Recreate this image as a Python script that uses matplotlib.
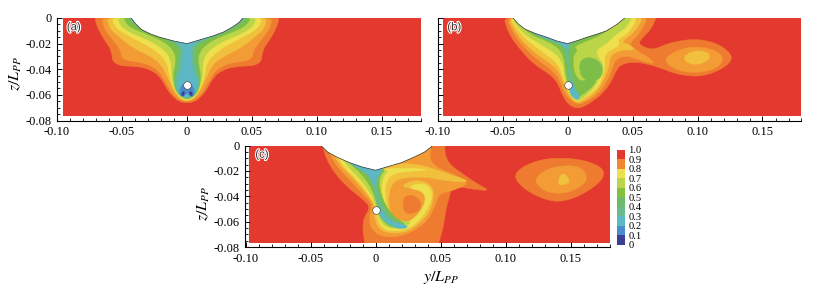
import numpy as np
import matplotlib
matplotlib.use("Agg")
import matplotlib.pyplot as plt
import matplotlib.patheffects as pe
from matplotlib.patches import Polygon, Rectangle

plt.rcParams['font.family'] = ['Liberation Serif', 'DejaVu Serif']
plt.rcParams['mathtext.fontset'] = 'stix'

# wake contours, x and z in 1/1000 Lpp. panel (a) is nearly symmetric: right half only
a_red = [(71,3),(70,-5),(65,-15),(58,-25),(57,-37),(35,-38),(25,-42),(20,-47),(14,-58),(7,-65),(0,-66.5)]
a_orange = [(66,3),(64,-8),(58,-16),(51,-25),(50,-33),(33,-35),(23,-40),(18,-47),(12,-58),(6,-64),(0,-65.5)]
a_gold = [(62,3),(60,-8),(52,-15),(42,-23),(28,-30),(20,-36),(15,-46),(10,-57),(5,-63),(0,-65)]
a_yellow = [(58,3),(56,-7),(45,-14),(33,-20),(22,-27),(15,-35),(13.5,-46),(9.5,-57),(5,-62.5),(0,-64.5)]
a_lime = [(54,3),(51,-7),(40,-13),(28,-18),(17,-25),(12,-33),(12,-46),(9,-57),(4.5,-62),(0,-64)]
a_green = [(50,3),(46,-6),(35,-11),(20,-17),(11,-24),(8,-32),(11,-46),(8.5,-57),(4,-61.5),(0,-63.5)]
a_sea = [(47,3),(42,-4),(28,-12),(12,-18),(6,-23),(6,-30),(8,-42),(10,-50),(8,-58),(4,-61),(0,-63)]
a_teal = [(45,3),(38,-4),(25,-11),(8,-18),(3,-23),(3,-28),(4,-40),(8,-48),(7,-58),(3,-60.5),(0,-62.5)]
a_blue = [(5,-53),(6,-60),(3,-62),(0,-58),(-3,-62),(-6,-60),(-5,-53),(0,-50)]
a_navy1 = [(2,-57),(4,-58),(4,-61),(2,-60)]
a_navy2 = [(-2,-57),(-4,-58),(-4,-61),(-2,-60)]

b_red = [(-50,5),(70,5),(65,-8),(58,-15),(55,-19),(57,-22),(66,-25),(79,-19),(99,-16),(116,-20),(126,-28),(126,-34),
         (117,-41),(102,-46),(84,-44),(69,-38),(53,-34),(41,-36),(37,-42),(33,-51),(26,-60),(15,-68),(7,-71),(0,-67),
         (-4,-60),(-7,-52),(-12,-45),(-26,-36),(-37,-24),(-46,-11)]
b_orange = [(-49,5),(-41,-14),(-28,-29),(-10,-42),(-5,-51),(-2,-60),(7,-68),(15,-65),(24,-59),(30,-50),(34,-41),(37,-32),
            (46,-29),(64,-36),(67,-34),(53,-25),(47,-20),(56,-12),(64,5)]
b_orange_lobe = [(73,-33),(84,-25),(99,-22),(114,-25),(121,-32),(114,-40),(99,-43),(84,-41)]
b_gold_lobe = [(90,-29),(99,-25),(109,-27),(109,-33),(99,-37),(90,-34)]
b_gold = [(-47,5),(-40,-12),(-27,-26),(-8,-39),(-4,-48),(0,-59),(7,-67),(14,-64),(23,-57),(28,-48),(32,-38),(33,-29),
          (41,-25),(53,-25),(46,-20),(41,-19),(53,-10),(60,5)]
b_yellow = [(-47,5),(-37,-12),(-23,-24),(-7,-35),(-3,-48),(1,-59),(7,-66),(12,-63),(22,-56),(27,-47),(29,-37),(28,-28),
            (41,-21),(38,-17),(48,-11),(56,5)]
b_lime = [(-46,5),(-35,-12),(-16,-23),(-4,-32),(-2,-48),(2,-59),(7,-65),(11,-63),(20,-55),(25,-46),(28,-37),(23,-30),
          (22,-25),(30,-20),(38,-12),(46,-7),(51,5)]
b_green = [(-44,5),(-31,-12),(-13,-19),(-3,-27),(-1,-47),(3,-59),(7,-63),(18,-55),(23,-48),(17,-47),(10,-50),(5,-43),
           (4,-30),(8,-25),(4,-22),(30,-12),(45,5)]
b_green_core = [(9,-33),(18,-30),(27,-36),(27,-46),(18,-50),(10,-46)]
b_sea = [(-42,5),(-28,-12),(-10,-18),(-2,-23),(0,-38),(1,-48),(4,-59),(7,-62),(10,-61),(7,-57),(5,-50),(1,-38),(1,-21),(10,-17),(0,-19)]
b_teal1 = [(-40,0),(-26,-13),(-5,-20),(-1,-25),(1,-21),(0,-20)]
b_teal2 = [(1,-52),(2,-60),(7,-64),(10,-62),(6,-57),(4,-51)]

c_red = [(-42,5),(-38,-11),(-29,-25),(-19,-35),(-9,-43),(-4,-49),(-9,-57),(-10,-66),(-7,-85),(46,-85),(52,-66),(54,-51),
         (57,-40),(59,-31),(71,-34),(89,-36),(78,-30),(68,-23),(57,-15),(53,-6),(54,5)]
c_red_lobe = [(106,-25),(112,-17),(130,-10),(153,-10),(171,-15),(177,-22),(171,-31),(153,-42),(136,-45),(116,-36)]
c_orange_lobe = [(123,-26),(129,-20),(141,-16),(157,-16),(164,-25),(158,-33),(145,-38),(132,-37),(124,-31)]
c_gold_lobe = [(140,-31),(142,-23),(146,-22),(150,-29),(145,-31)]
c_orange = [(-40,5),(-32,-14),(-20,-27),(-9,-39),(-2,-47),(-5,-55),(-4,-65),(4,-72),(19,-72),(32,-66),(41,-58),(46,-47),
            (49,-38),(58,-36),(73,-30),(61,-23),(40,-14),(45,5)]
c_core = [(22,-40),(30,-39),(36,-46),(32,-53),(23,-54),(21,-47)]
c_gold = [(-38,5),(-29,-14),(-16,-27),(-6,-39),(-1,-47),(-1,-56),(2,-65),(9,-69),(22,-69),(32,-63),(40,-55),(44,-45),
          (45,-35),(40,-29),(30,-27),(19,-32),(27,-34),(36,-35),(40,-41),(35,-52),(25,-61),(17,-61),(10.5,-51),(10,-38),
          (14,-28),(25,-25),(40,-25),(55,-28),(75,-29),(55,-22),(35,-15),(17,-14),(5,-19),(0,-18)]
c_yellow = [(-36,5),(-27,-14),(-14,-27),(-5,-39),(0,-47),(1,-56),(4,-64),(12,-68),(25,-66),(33,-60),(40,-50),(44,-41),
            (42,-33),(37,-30),(28,-31),(27,-34),(36,-36),(39,-42),(35,-52),(27,-60),(18,-61),(12,-58),(8,-45),(7,-32),
            (12,-22),(30,-20),(43,-19),(25,-18),(12,-18),(4,-19),(0,-18)]
c_lime = [(-33,5),(-24,-14),(-11,-27),(-3,-39),(0,-46),(2,-56),(6,-63),(14,-66),(24,-63),(28,-60),(15,-59),(8,-50),(4,-35),(6,-24),(10,-20),(4,-18)]
c_green = [(-31,5),(-22,-12),(-9,-24),(-2,-36),(1,-46),(3,-55),(8,-62),(15,-65),(24,-62),(16,-58),(8,-48),(3,-35),(3,-24),(8,-19),(0,-17)]
c_sea = [(-28,0),(-18,-12),(-6,-22),(-1,-34),(1,-45),(4,-55),(10,-62),(18,-66),(24,-63),(15,-60),(8,-52),(3,-42),(1,-30),(2,-22),(8,-17)]
c_teal1 = [(-36,-3),(-20,-14),(-5,-23),(0,-33),(1,-26),(6,-18),(0,-18)]
c_teal2 = [(2,-52),(5,-58),(12,-63),(20,-66),(26,-64),(18,-61),(11,-60),(6,-54),(3,-49)]

hull_a = [(-45,3),(-43,0),(-40,-4),(-35,-9),(-28,-12.5),(-21,-15),(-10,-18),(0,-20),(10,-17),(20,-14),(28,-11),(35,-7),(40,-3.5),(43,0),(45,3)]
hull_b = [(-44,3),(-42,0),(-38,-4.5),(-33,-8.5),(-25,-12),(-16,-15),(-8,-18),(0,-20),(8,-17.5),(15,-15),(23,-12.5),(30,-10),(38,-5),(44,0),(46,3)]
hull_c = [(-44,3),(-42,0),(-37,-5),(-30,-9),(-20,-13.5),(-10,-17),(0,-19.5),(10,-16.5),(20,-13.5),(30,-9),(38,-5),(43,-1),(45,3)]

probe_a = (0, -52)
probe_b = (0, -52)
probe_c = (0, -50.5)

xticks = [-0.10, -0.05, 0, 0.05, 0.10, 0.15]
xtick_labels = ['-0.10', '-0.05', '0', '0.05', '0.10', '0.15']
zticks = [0, -0.02, -0.04, -0.06, -0.08]
ztick_labels = ['0', '-0.02', '-0.04', '-0.06', '-0.08']
bar_levels = [0, 0.1, 0.2, 0.3, 0.4, 0.5, 0.6, 0.7, 0.8, 0.9, 1.0]
bar_labels = ['0', '0.1', '0.2', '0.3', '0.4', '0.5', '0.6', '0.7', '0.8', '0.9', '1.0']

RED = '#E3392E'
ORANGE = '#EE7B2F'
LORANGE = '#F39B34'
GOLD = '#F1C03C'
YELLOW = '#EDE04C'
LIME = '#BBD548'
GREEN = '#7DBE48'
SEA = '#68BC8C'
TEAL = '#5BB8C4'
BLUE = '#4A8CCB'
NAVY = '#3A3F94'
bar_colors = [NAVY, BLUE, TEAL, SEA, '#6DBA6D', '#86C040', LIME, YELLOW, '#F0882F', RED]

W, H = 825, 291


def px_axes(fig, left, right, top, bottom):
    return fig.add_axes([left / W, 1 - bottom / H, (right - left) / W, (bottom - top) / H])


def chaikin(pts, n=3):
    # round off the read outline corners
    p = np.array(pts, dtype=float)
    for i in range(n):
        q = np.roll(p, -1, axis=0)
        p = np.column_stack([0.75 * p + 0.25 * q, 0.25 * p + 0.75 * q]).reshape(-1, 2)
    return p


def mirror(half):
    left = [(-x, z) for x, z in half[-2::-1]]
    return list(half) + left


def panel(ax, layers, hull, probe, tag, left_edge, show_z=True):
    ax.set_xlim(-0.10, 0.18)
    ax.set_ylim(-0.08, 0)
    field = Rectangle((left_edge, -0.0765), 0.18 - left_edge, 0.0765, fc=RED, ec='none', zorder=1)
    ax.add_patch(field)
    for color, pts in layers:
        poly = Polygon(chaikin(pts) / 1000, closed=True, fc=color, ec=color, lw=0.3, zorder=2)
        ax.add_patch(poly)
        poly.set_clip_path(field)
    ax.add_patch(Polygon(np.array(hull) / 1000, closed=True, fc='white', ec='#333333', lw=0.5, zorder=3))
    ax.plot(probe[0] / 1000, probe[1] / 1000, 'o', ms=5.5, mfc='white', mec='#333333', mew=0.4, zorder=4)
    ax.spines['top'].set_visible(False)
    ax.spines['right'].set_visible(False)
    ax.spines['left'].set_linewidth(0.8)
    ax.spines['bottom'].set_linewidth(0.8)
    ax.set_xticks(xticks)
    ax.set_xticklabels(xtick_labels, fontsize=9)
    ax.set_xticks(np.arange(-10, 19) / 100, minor=True)
    ax.set_yticks(zticks)
    ax.set_yticklabels(ztick_labels, fontsize=9)
    ax.set_yticks(-np.arange(0, 17) * 0.005, minor=True)
    ax.tick_params(which='major', direction='in', length=3.5, width=0.7, pad=4)
    ax.tick_params(which='minor', direction='in', length=2, width=0.6)
    ax.tick_params(axis='y', labelleft=show_z)
    txt = ax.text(0.027, 0.91, tag, transform=ax.transAxes, family='Liberation Sans', fontsize=8.2,
                  color='#333333', ha='left', va='center', zorder=5)
    txt.set_path_effects([pe.withStroke(linewidth=1.6, foreground='white')])


fig = plt.figure(figsize=(W / 100, H / 100), dpi=100)

ax_a = px_axes(fig, 57, 421, 18, 120.5)
ax_b = px_axes(fig, 437.5, 801.5, 18, 120.5)
ax_c = px_axes(fig, 245.5, 609.5, 145.5, 247)

layers_a = [(ORANGE, mirror(a_red)), (LORANGE, mirror(a_orange)), (GOLD, mirror(a_gold)), (YELLOW, mirror(a_yellow)),
            (LIME, mirror(a_lime)), (GREEN, mirror(a_green)), (SEA, mirror(a_sea)), (TEAL, mirror(a_teal)),
            (BLUE, a_blue), (NAVY, a_navy1), (NAVY, a_navy2)]
layers_b = [(ORANGE, b_red), (LORANGE, b_orange), (LORANGE, b_orange_lobe), (GOLD, b_gold_lobe), (GOLD, b_gold),
            (YELLOW, b_yellow), (LIME, b_lime), (GREEN, b_green), (GREEN, b_green_core), (SEA, b_sea),
            (TEAL, b_teal1), (TEAL, b_teal2)]
layers_c = [(ORANGE, c_red), (ORANGE, c_red_lobe), (LORANGE, c_orange_lobe), (GOLD, c_gold_lobe), (LORANGE, c_orange),
            (ORANGE, c_core), (GOLD, c_gold), (YELLOW, c_yellow), (LIME, c_lime), (GREEN, c_green), (SEA, c_sea),
            (TEAL, c_teal1), (TEAL, c_teal2)]

panel(ax_a, layers_a, hull_a, probe_a, '(a)', -0.0956)
panel(ax_b, layers_b, hull_b, probe_b, '(b)', -0.0955, show_z=False)
panel(ax_c, layers_c, hull_c, probe_c, '(c)', -0.0975)

ax_a.set_ylabel(r'$z/L_{PP}$', fontsize=11.5)
ax_a.yaxis.set_label_coords(-0.09, 0.463)
ax_c.set_ylabel(r'$z/L_{PP}$', fontsize=11.5)
ax_c.yaxis.set_label_coords(-0.092, 0.433)
ax_c.set_xlabel(r'$y/L_{PP}$', fontsize=11.5)
ax_c.xaxis.set_label_coords(0.537, -0.217)

# colour bar
ax_bar = px_axes(fig, 617, 625, 149.5, 245)
ax_bar.bar([0.5] * 10, np.diff(bar_levels), bottom=bar_levels[:-1], width=1, color=bar_colors)
ax_bar.set_xlim(0, 1)
ax_bar.set_ylim(0, 1)
ax_bar.set_xticks([])
ax_bar.yaxis.tick_right()
ax_bar.set_yticks(bar_levels)
ax_bar.set_yticklabels(bar_labels, fontsize=7.6)
ax_bar.tick_params(length=0, pad=2.5)
for s in ax_bar.spines.values():
    s.set_visible(False)

fig.savefig('out.png', dpi=100)
